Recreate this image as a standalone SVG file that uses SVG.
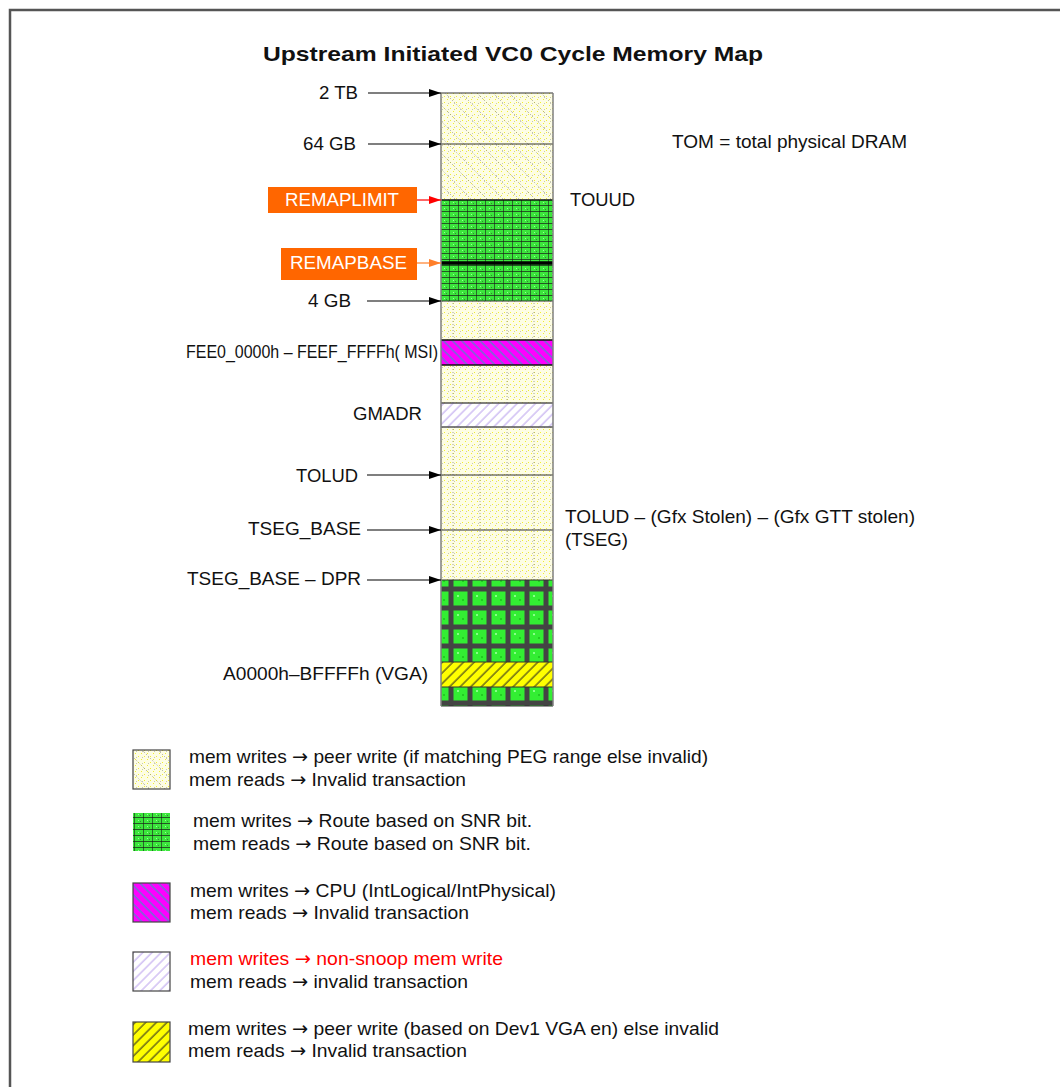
<svg xmlns="http://www.w3.org/2000/svg" width="1060" height="1087" viewBox="0 0 1060 1087">
<style>
text{font-family:"Liberation Sans",Arial,sans-serif;font-size:19px;fill:#111}
.arr{font-family:"DejaVu Sans",sans-serif}
.title{font-size:21px;font-weight:bold}
.box{fill:#ff6600}
.boxt{fill:#fff;font-size:18px}
.red{fill:#ff0000}
.conn{stroke:#000;stroke-width:1.2;fill:none}
.sep{stroke:#333;stroke-width:1}
.side{stroke:#808080;stroke-width:1.5;fill:none}
.sw{stroke:#444;stroke-width:1.2}
</style>
<defs>
<marker id="ah" markerUnits="userSpaceOnUse" markerWidth="12" markerHeight="8" refX="12" refY="4" orient="auto"><path d="M0,0L12,4L0,8z" fill="#000"/></marker>
<marker id="ahr" markerUnits="userSpaceOnUse" markerWidth="12" markerHeight="8" refX="12" refY="4" orient="auto"><path d="M0,0L12,4L0,8z" fill="#ff0000"/></marker>
<marker id="aho" markerUnits="userSpaceOnUse" markerWidth="12" markerHeight="8" refX="12" refY="4" orient="auto"><path d="M0,0L12,4L0,8z" fill="#ff7f2a"/></marker>
<pattern id="pY" patternUnits="userSpaceOnUse" width="6" height="6">
<rect width="6" height="6" fill="#fdfde4"/><rect x="0" y="0" width="1" height="1" fill="#f2ee30"/><rect x="3" y="3" width="1" height="1" fill="#f2ee30"/><rect x="4" y="1" width="1" height="1" fill="#c8c8b0"/>
</pattern>
<pattern id="pDiag" patternUnits="userSpaceOnUse" width="16" height="16">
<path d="M0,0L16,16" stroke="#888" stroke-width="0.8" stroke-dasharray="1 2"/>
</pattern>
<pattern id="pVert" patternUnits="userSpaceOnUse" x="441" width="27" height="6">
<path d="M12,0V6" stroke="#888" stroke-width="0.8" stroke-dasharray="1 2"/>
</pattern>
<pattern id="pGf" patternUnits="userSpaceOnUse" x="441" y="200" width="9" height="6">
<rect width="9" height="6" fill="#3ce63c"/><rect x="0" y="5" width="9" height="1" fill="#1a1a1a" opacity="0.7"/><rect x="8" y="0" width="1" height="6" fill="#1a1a1a" opacity="0.6"/><rect x="3" y="2" width="1" height="1" fill="#9f9"/><rect x="5" y="3" width="1" height="1" fill="#2a2a2a" opacity="0.5"/>
</pattern>
<pattern id="pGb" patternUnits="userSpaceOnUse" x="432" y="570" width="19" height="19">
<rect width="19" height="19" fill="#444"/><rect x="2.5" y="2.5" width="14" height="14" fill="#33ee33"/><rect x="6" y="6" width="2" height="2" fill="#8f8"/><rect x="11" y="10" width="2" height="2" fill="#2c2"/>
</pattern>
<pattern id="pMag" patternUnits="userSpaceOnUse" width="6.5" height="6.5" patternTransform="rotate(-45)">
<rect width="6.5" height="6.5" fill="#ff00ff"/><path d="M1,0V6.5" stroke="#4a8fc8" stroke-width="1.2"/>
</pattern>
<pattern id="pLav" patternUnits="userSpaceOnUse" width="6.5" height="6.5" patternTransform="rotate(45)">
<rect width="6.5" height="6.5" fill="#fff"/><path d="M1,0V6.5" stroke="#c9b6f2" stroke-width="1.3"/>
</pattern>
<pattern id="pVga" patternUnits="userSpaceOnUse" width="7.5" height="7.5" patternTransform="rotate(45)">
<rect width="7.5" height="7.5" fill="#ffff00"/><path d="M1,0V7.5" stroke="#222" stroke-width="1"/>
</pattern>
</defs>

<path d="M10,1087V10H1060" fill="none" stroke="#555" stroke-width="2.5"/>

<text class="title" x="263" y="61" textLength="500" lengthAdjust="spacingAndGlyphs">Upstream Initiated VC0 Cycle Memory Map</text>

<g id="column">
<g id="r-2tb"><rect x="441" y="93" width="112" height="51" fill="url(#pY)"/><rect x="441" y="93" width="112" height="51" fill="url(#pDiag)"/></g>
<g id="r-64gb"><rect x="441" y="144" width="112" height="56" fill="url(#pY)"/><rect x="441" y="144" width="112" height="56" fill="url(#pDiag)"/></g>
<g id="r-remap"><rect x="441" y="200" width="112" height="101" fill="url(#pGf)"/></g>
<g id="r-4gb"><rect x="441" y="301" width="112" height="39" fill="url(#pY)"/><rect x="441" y="301" width="112" height="39" fill="url(#pVert)"/></g>
<g id="r-msi"><rect x="441" y="340" width="112" height="25" fill="url(#pMag)"/></g>
<g id="r-mid"><rect x="441" y="365" width="112" height="38" fill="url(#pY)"/><rect x="441" y="365" width="112" height="38" fill="url(#pVert)"/></g>
<g id="r-gmadr"><rect x="441" y="403" width="112" height="24" fill="url(#pLav)"/></g>
<g id="r-low"><rect x="441" y="427" width="112" height="153" fill="url(#pY)"/><rect x="441" y="427" width="112" height="153" fill="url(#pVert)"/></g>
<g id="r-dram"><rect x="441" y="580" width="112" height="126" fill="url(#pGb)"/></g>
<g id="r-vga"><rect x="441" y="662" width="112" height="25" fill="url(#pVga)"/></g>
<line class="sep" x1="441" y1="93" x2="553" y2="93" stroke="#555"/>
<line class="sep" x1="441" y1="144" x2="553" y2="144"/>
<line x1="441" y1="200" x2="553" y2="200" stroke="#111" stroke-width="1.5"/>
<line x1="441" y1="263" x2="553" y2="263" stroke="#000" stroke-width="3.5"/>
<line class="sep" x1="441" y1="301" x2="553" y2="301"/>
<line x1="441" y1="340" x2="553" y2="340" stroke="#111" stroke-width="1.5"/>
<line x1="441" y1="365" x2="553" y2="365" stroke="#111" stroke-width="1.5"/>
<line x1="441" y1="403" x2="553" y2="403" stroke="#555" stroke-width="1.5"/>
<line x1="441" y1="427" x2="553" y2="427" stroke="#555" stroke-width="1.5"/>
<line class="sep" x1="441" y1="475" x2="553" y2="475"/>
<line class="sep" x1="441" y1="530" x2="553" y2="530"/>
<line class="sep" x1="441" y1="580" x2="553" y2="580"/>
<line class="sep" x1="441" y1="662" x2="553" y2="662"/>
<line class="sep" x1="441" y1="687" x2="553" y2="687"/>
<line class="sep" x1="441" y1="706" x2="553" y2="706" stroke="#555"/>
<path class="side" d="M441,93V706M553,93V706"/>
</g>

<g id="connectors">
<line class="conn" x1="368" y1="93" x2="441" y2="93" marker-end="url(#ah)"/>
<line class="conn" x1="368" y1="144" x2="441" y2="144" marker-end="url(#ah)"/>
<line x1="417" y1="200" x2="441" y2="200" stroke="#ff0000" stroke-width="1.2" marker-end="url(#ahr)"/>
<line x1="417" y1="263" x2="441" y2="263" stroke="#ff7f2a" stroke-width="1.2" marker-end="url(#aho)"/>
<line class="conn" x1="367" y1="301" x2="441" y2="301" marker-end="url(#ah)"/>
<line class="conn" x1="367" y1="475" x2="441" y2="475" marker-end="url(#ah)"/>
<line class="conn" x1="367" y1="530" x2="441" y2="530" marker-end="url(#ah)"/>
<line class="conn" x1="367" y1="580" x2="441" y2="580" marker-end="url(#ah)"/>
</g>

<g id="labels">
<g id="l-2tb"><text x="319" y="99" textLength="39" lengthAdjust="spacingAndGlyphs">2 TB</text></g>
<g id="l-64gb"><text x="303" y="150" textLength="53" lengthAdjust="spacingAndGlyphs">64 GB</text></g>
<g id="l-remaplimit"><rect class="box" x="268" y="187" width="149" height="26"/><text class="boxt" x="285" y="206" textLength="114" lengthAdjust="spacingAndGlyphs">REMAPLIMIT</text></g>
<g id="l-remapbase"><rect class="box" x="281" y="248" width="136" height="32"/><text class="boxt" x="290" y="269" textLength="117" lengthAdjust="spacingAndGlyphs">REMAPBASE</text></g>
<g id="l-4gb"><text x="308" y="307" textLength="43" lengthAdjust="spacingAndGlyphs">4 GB</text></g>
<g id="l-msi"><text x="186" y="358" textLength="252" lengthAdjust="spacingAndGlyphs">FEE0_0000h – FEEF_FFFFh( MSI)</text></g>
<g id="l-gmadr"><text x="353" y="420" textLength="69" lengthAdjust="spacingAndGlyphs">GMADR</text></g>
<g id="l-tolud"><text x="296" y="482" textLength="62" lengthAdjust="spacingAndGlyphs">TOLUD</text></g>
<g id="l-tseg"><text x="248" y="535" textLength="113" lengthAdjust="spacingAndGlyphs">TSEG_BASE</text></g>
<g id="l-dpr"><text x="187" y="585" textLength="174" lengthAdjust="spacingAndGlyphs">TSEG_BASE – DPR</text></g>
<g id="l-vga"><text x="223" y="680" textLength="205" lengthAdjust="spacingAndGlyphs">A0000h–BFFFFh (VGA)</text></g>
<g id="l-tom"><text x="672" y="148" textLength="235" lengthAdjust="spacingAndGlyphs">TOM = total physical DRAM</text></g>
<g id="l-touud"><text x="570" y="206" textLength="65" lengthAdjust="spacingAndGlyphs">TOUUD</text></g>
<g id="l-tsegr"><text x="565" y="523" textLength="350" lengthAdjust="spacingAndGlyphs">TOLUD – (Gfx Stolen) – (Gfx GTT stolen)</text><text x="565" y="546" textLength="63" lengthAdjust="spacingAndGlyphs">(TSEG)</text></g>
</g>

<g id="legend">
<g id="lg-1"><rect x="133" y="750" width="37" height="39" fill="url(#pY)"/><rect class="sw" x="133" y="750" width="37" height="39" fill="url(#pDiag)"/>
<text x="189" y="763" textLength="519" lengthAdjust="spacingAndGlyphs">mem writes <tspan class="arr">→</tspan> peer write (if matching PEG range else invalid)</text>
<text x="189" y="786" textLength="277" lengthAdjust="spacingAndGlyphs">mem reads <tspan class="arr">→</tspan> Invalid transaction</text></g>
<g id="lg-2"><rect x="133" y="813" width="37" height="38" fill="url(#pGf)"/>
<text x="193" y="827" textLength="339" lengthAdjust="spacingAndGlyphs">mem writes <tspan class="arr">→</tspan> Route based on SNR bit.</text>
<text x="193" y="850" textLength="338" lengthAdjust="spacingAndGlyphs">mem reads <tspan class="arr">→</tspan> Route based on SNR bit.</text></g>
<g id="lg-3"><rect class="sw" x="133" y="883" width="37" height="39" fill="url(#pMag)"/>
<text x="190" y="897" textLength="366" lengthAdjust="spacingAndGlyphs">mem writes <tspan class="arr">→</tspan> CPU (IntLogical/IntPhysical)</text>
<text x="190" y="919" textLength="279" lengthAdjust="spacingAndGlyphs">mem reads <tspan class="arr">→</tspan> Invalid transaction</text></g>
<g id="lg-4"><rect class="sw" x="133" y="952" width="37" height="39" fill="url(#pLav)"/>
<text class="red" x="190" y="965" textLength="313" lengthAdjust="spacingAndGlyphs">mem writes <tspan class="arr">→</tspan> non-snoop mem write</text>
<text x="190" y="988" textLength="278" lengthAdjust="spacingAndGlyphs">mem reads <tspan class="arr">→</tspan> invalid transaction</text></g>
<g id="lg-5"><rect class="sw" x="133" y="1022" width="37" height="40" fill="url(#pVga)"/>
<text x="188" y="1035" textLength="531" lengthAdjust="spacingAndGlyphs">mem writes <tspan class="arr">→</tspan> peer write (based on Dev1 VGA en) else invalid</text>
<text x="188" y="1057" textLength="279" lengthAdjust="spacingAndGlyphs">mem reads <tspan class="arr">→</tspan> Invalid transaction</text></g>
</g>
</svg>
